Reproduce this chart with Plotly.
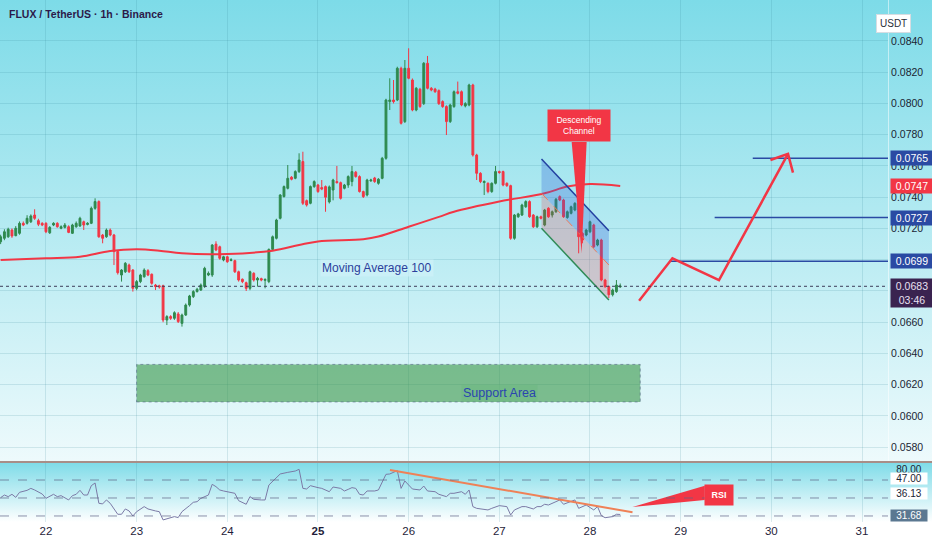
import base64
import pandas as pd
import plotly.graph_objects as go

# FLUX / USDT, 1h candles from 2024-05-21 12:00, prices in units of 0.00001 USDT
open_e5 = [
    7115, 7137, 7147, 7190, 7154, 7169, 7233, 7233, 7243, 7286, 7250, 7233,
    7233, 7172, 7222, 7233, 7201, 7207, 7211, 7169, 7211, 7216, 7243, 7226,
    7233, 7329, 7372, 7158, 7147, 7190, 7158, 7052, 6902, 6923, 6966, 6934,
    6817, 6860, 6891, 6930, 6907, 6838, 6833, 6833, 6614, 6636, 6625, 6653,
    6593, 6646, 6710, 6764, 6796, 6806, 6828, 6902, 6902, 7100, 7083, 6998,
    7019, 6995, 6994, 6923, 6875, 6853, 6817, 6913, 6870, 6879, 6868, 6860,
    7066, 7137, 7265, 7404, 7457, 7528, 7521, 7564, 7628, 7378, 7361, 7468,
    7478, 7462, 7468, 7370, 7446, 7500, 7493, 7457, 7478, 7500, 7560, 7532,
    7436, 7414, 7505, 7523, 7489, 7521, 7649, 8012, 8022, 8022, 8225, 7884,
    8225, 8150, 7958, 8091, 7999, 8257, 8097, 8092, 8082, 8012, 7980, 7884,
    7980, 8075, 8075, 7984, 7990, 8118, 7670, 7553, 7494, 7489, 7436, 7489,
    7564, 7564, 7489, 7474, 7137, 7275, 7286, 7339, 7372, 7286, 7211, 7275,
    7222, 7329, 7286, 7307, 7404, 7382, 7270, 7297, 7318, 7361, 7169, 7158,
    7179, 7222, 7094, 7126, 6870, 6828, 6776, 6796, 6826,
]
high_e5 = [
    7160, 7195, 7205, 7200, 7215, 7245, 7245, 7285, 7290, 7323, 7262, 7240,
    7240, 7215, 7240, 7240, 7220, 7235, 7220, 7230, 7245, 7275, 7250, 7240,
    7340, 7393, 7380, 7165, 7200, 7200, 7165, 7060, 6940, 6985, 6975, 6940,
    6870, 6910, 6945, 6940, 6912, 6845, 6840, 6840, 6645, 6645, 6670, 6665,
    6655, 6720, 6775, 6805, 6820, 6848, 6955, 6925, 7100, 7118, 7090, 7025,
    7025, 7010, 7000, 6930, 6880, 6860, 6930, 6920, 6890, 6885, 6880, 7072,
    7155, 7262, 7420, 7475, 7606, 7535, 7572, 7681, 7691, 7385, 7475, 7508,
    7485, 7510, 7475, 7475, 7518, 7600, 7500, 7485, 7540, 7600, 7568, 7540,
    7442, 7518, 7518, 7530, 7522, 7658, 8030, 8161, 8150, 8235, 8235, 8278,
    8353, 8160, 8105, 8100, 8265, 8304, 8105, 8100, 8090, 8020, 7988, 7998,
    8083, 8140, 8083, 8008, 8126, 8126, 7678, 7560, 7508, 7495, 7495, 7600,
    7570, 7570, 7495, 7480, 7292, 7300, 7358, 7380, 7380, 7292, 7282, 7282,
    7325, 7336, 7315, 7395, 7412, 7390, 7315, 7346, 7368, 7368, 7176, 7198,
    7250, 7230, 7134, 7134, 6878, 6835, 6815, 6870, 6848,
]
low_e5 = [
    7100, 7125, 7140, 7140, 7150, 7160, 7215, 7225, 7235, 7255, 7215, 7215,
    7170, 7165, 7215, 7205, 7195, 7200, 7170, 7165, 7205, 7210, 7190, 7220,
    7228, 7320, 7140, 7105, 7140, 7150, 6966, 6905, 6860, 6915, 6915, 6796,
    6805, 6850, 6885, 6895, 6840, 6806, 6815, 6600, 6582, 6615, 6615, 6595,
    6572, 6640, 6700, 6755, 6790, 6800, 6820, 6895, 6890, 7055, 7000, 6990,
    6980, 6990, 6915, 6860, 6850, 6800, 6805, 6860, 6828, 6862, 6817, 6850,
    7060, 7130, 7258, 7398, 7450, 7508, 7515, 7555, 7350, 7340, 7355, 7460,
    7428, 7445, 7307, 7360, 7380, 7488, 7385, 7450, 7460, 7470, 7525, 7430,
    7395, 7405, 7498, 7492, 7480, 7515, 7640, 7958, 8000, 8015, 7865, 7875,
    8155, 7950, 7950, 7972, 7990, 8090, 8078, 8068, 7990, 7972, 7798, 7875,
    7972, 8058, 7982, 7975, 7982, 7660, 7510, 7490, 7414, 7425, 7428, 7482,
    7550, 7470, 7466, 7128, 7128, 7268, 7280, 7332, 7268, 7203, 7203, 7258,
    7214, 7268, 7270, 7300, 7375, 7268, 7262, 7290, 7310, 7041, 7105, 7150,
    7170, 7075, 7086, 6862, 6820, 6755, 6765, 6788, 6820,
]
close_e5 = [
    7147, 7179, 7195, 7152, 7201, 7233, 7222, 7265, 7280, 7265, 7227, 7222,
    7179, 7207, 7233, 7211, 7211, 7222, 7175, 7222, 7233, 7265, 7222, 7233,
    7329, 7372, 7147, 7137, 7190, 7158, 7052, 6917, 6934, 6977, 6923, 6817,
    6860, 6902, 6934, 6902, 6849, 6828, 6826, 6614, 6636, 6625, 6661, 6604,
    6646, 6710, 6768, 6796, 6811, 6838, 6945, 6913, 7094, 7062, 7009, 7019,
    6987, 7000, 6923, 6870, 6860, 6817, 6923, 6870, 6881, 6870, 6874, 7066,
    7147, 7254, 7414, 7468, 7521, 7515, 7564, 7638, 7361, 7350, 7468, 7500,
    7436, 7452, 7400, 7466, 7510, 7493, 7393, 7478, 7532, 7564, 7532, 7436,
    7404, 7510, 7510, 7500, 7515, 7649, 8022, 8022, 8012, 8225, 7873, 8225,
    8161, 7958, 8097, 7980, 8257, 8097, 8086, 8075, 7999, 7980, 7884, 7990,
    8075, 8065, 7990, 7999, 8118, 7670, 7553, 7500, 7500, 7436, 7489, 7564,
    7558, 7478, 7474, 7137, 7286, 7293, 7350, 7372, 7275, 7211, 7275, 7265,
    7318, 7275, 7307, 7387, 7382, 7275, 7307, 7339, 7361, 7147, 7126, 7190,
    7243, 7083, 7126, 6870, 6828, 6776, 6806, 6838, 6832,
]

# Moving Average 100
ma_time = [
    "2024-05-21 12:00", "2024-05-22 00:00", "2024-05-22 09:00", "2024-05-22 17:00",
    "2024-05-23 00:00", "2024-05-23 06:00", "2024-05-23 12:00", "2024-05-24 00:00",
    "2024-05-24 12:00", "2024-05-24 19:00", "2024-05-25 00:00", "2024-05-25 12:00",
    "2024-05-25 16:00", "2024-05-26 00:00", "2024-05-26 08:00", "2024-05-26 12:00",
    "2024-05-27 00:00", "2024-05-27 12:00", "2024-05-27 18:00", "2024-05-28 00:00",
    "2024-05-28 08:00",
]
ma_value = [
    0.06998, 0.07009, 0.07019, 0.07056, 0.07067, 0.07058, 0.07041, 0.07037,
    0.07058, 0.07094, 0.07117, 0.07131, 0.07148, 0.07211, 0.07274, 0.07307,
    0.07372, 0.07425, 0.07468, 0.07484, 0.07472,
]

# RSI (hours after the first candle, value)
rsi_hour = [
    0, 1, 2, 3, 4, 5, 7, 8, 9, 11, 12, 14, 15, 16, 18, 19, 20, 21, 22, 23,
    24, 25, 26, 27, 28, 29, 31, 32, 33, 34, 35, 36, 38, 39, 41, 42, 43, 44,
    45, 46, 47, 48, 50, 51, 52, 53, 55, 56, 57, 58, 59, 60, 62, 63, 65, 66,
    67, 69, 70, 71, 73, 74, 76, 78, 79, 80, 81, 82, 84, 85, 87, 88, 90, 91,
    92, 93, 94, 95, 96, 97, 99, 100, 102, 103, 105, 106, 107, 109, 111, 112,
    113, 115, 116, 118, 119, 120, 122, 123, 124, 125, 126, 129, 130, 132,
    134, 135, 136, 138, 139, 141, 142, 143, 144, 145, 147, 148, 149, 151,
    152, 153, 155, 157, 158, 159, 160, 162, 163, 164,
]
rsi_value = [
    50.4, 53.3, 51.5, 54.1, 50.7, 56.3, 58.5, 60.7, 58.9, 54.4, 49.6, 54.1,
    51.5, 52.6, 47.8, 52.6, 54.1, 58.5, 53.3, 53.3, 63.7, 66.7, 44.1, 43.4,
    47.8, 44.1, 31.9, 31.9, 37.8, 35.6, 30.0, 34.8, 40.4, 37.8, 35.6, 34.8,
    25.6, 26.7, 27.4, 29.3, 28.2, 34.8, 41.5, 45.2, 45.9, 49.6, 53.3, 65.2,
    62.6, 58.9, 57.8, 57.0, 55.2, 47.0, 43.0, 51.5, 48.5, 47.8, 47.8, 64.4,
    71.9, 76.7, 78.5, 80.0, 81.9, 60.7, 60.0, 63.7, 61.5, 60.7, 57.0, 62.2,
    60.7, 57.8, 59.6, 61.5, 60.7, 54.1, 53.3, 57.8, 57.8, 58.9, 76.3, 76.7,
    80.4, 60.7, 68.9, 60.0, 58.9, 63.3, 57.8, 57.0, 54.1, 51.5, 55.2, 55.2,
    57.0, 54.1, 58.9, 40.4, 38.5, 36.7, 38.5, 41.5, 40.4, 31.1, 36.7, 40.4,
    40.4, 37.8, 40.4, 40.4, 43.0, 42.2, 45.9, 47.8, 43.0, 45.9, 47.8, 38.5,
    42.2, 36.7, 40.4, 30.4, 28.1, 29.3, 31.9, 31.7,
]

# drawings
channel_time = ["2024-05-27 11:10", "2024-05-28 05:00"]
channel_upper = [0.07645, 0.07186]
channel_mid = [0.07425, 0.06966]
channel_lower = [0.07201, 0.06742]

target_price = [0.0765, 0.0727, 0.0699]
target_start = ["2024-05-29 19:05", "2024-05-29 09:00", "2024-05-28 21:07"]

path_time = ["2024-05-28 13:00", "2024-05-28 21:49", "2024-05-29 10:09", "2024-05-30 04:25"]
path_price = [0.06738, 0.07009, 0.06870, 0.07677]
head_time = ["2024-05-29 23:46", "2024-05-30 04:25", "2024-05-30 05:44"]
head_price = [0.07638, 0.07677, 0.07557]

support_time = ["2024-05-23 00:00", "2024-05-28 13:18"]
support_price = [0.0609, 0.0633]

callout_time = ["2024-05-27 19:09", "2024-05-27 21:47", "2024-05-27 23:07"]
callout_price = [0.07753, 0.07041, 0.07753]

rsi_trend_time = ["2024-05-25 19:03", "2024-05-28 11:15"]
rsi_trend_value = [81.1, 34.1]
rsi_callout_time = ["2024-05-29 06:23", "2024-05-28 11:15", "2024-05-29 06:23"]
rsi_callout_value = [63.7, 40.0, 47.8]

price_ticks = [0.058, 0.060, 0.062, 0.064, 0.066, 0.068, 0.070,
               0.072, 0.074, 0.076, 0.078, 0.080, 0.082, 0.084]
# 0.0680 and 0.0700 sit fully under the price tags
price_tick_text = ["0.0580", "0.0600", "0.0620", "0.0640", "0.0660", "", "",
                   "0.0720", "0.0740", "0.0760", "0.0780", "0.0800", "0.0820", "0.0840"]
last_price = 0.0683
ma_last = 0.0747

t = pd.date_range("2024-05-21 12:00", periods=len(close_e5), freq="h")
rsi_t = [t[0] + pd.Timedelta(hours=h) for h in rsi_hour]

RED = "#f23645"
GREEN = "#2f8a4f"
BLUE = "#2a4aa3"
FONT = "Liberation Sans"
XEND = 888 / 932

fig = go.Figure()

fig.add_trace(go.Candlestick(
    x=t,
    open=[v / 1e5 for v in open_e5],
    high=[v / 1e5 for v in high_e5],
    low=[v / 1e5 for v in low_e5],
    close=[v / 1e5 for v in close_e5],
    increasing=dict(line=dict(color=GREEN, width=1), fillcolor=GREEN),
    decreasing=dict(line=dict(color=RED, width=1), fillcolor=RED),
    whiskerwidth=0,
    hoverinfo="skip",
))

fig.add_trace(go.Scatter(x=ma_time, y=ma_value, mode="lines",
                         line=dict(color=RED, width=2, shape="spline")))

# descending channel
fig.add_trace(go.Scatter(
    x=channel_time + channel_time[::-1],
    y=channel_upper + channel_mid[::-1],
    fill="toself", fillcolor="rgba(50,100,215,0.3)", mode="none"))
fig.add_trace(go.Scatter(
    x=channel_time + channel_time[::-1],
    y=channel_mid + channel_lower[::-1],
    fill="toself", fillcolor="rgba(242,54,69,0.22)", mode="none"))
fig.add_trace(go.Scatter(x=channel_time, y=channel_upper, mode="lines",
                         line=dict(color="#2340a0", width=1.5)))
fig.add_trace(go.Scatter(x=channel_time, y=channel_mid, mode="lines",
                         line=dict(color="#f07a5a", width=1, dash="dash")))
fig.add_trace(go.Scatter(x=channel_time, y=channel_lower, mode="lines",
                         line=dict(color="#2e8b57", width=1.5)))

# target levels
for st, p in zip(target_start, target_price):
    fig.add_trace(go.Scatter(x=[st, "2024-06-02 00:00"], y=[p, p], mode="lines",
                             line=dict(color=BLUE, width=1.5)))

# projected path
fig.add_trace(go.Scatter(x=path_time, y=path_price, mode="lines",
                         line=dict(color=RED, width=2.5)))
fig.add_trace(go.Scatter(x=head_time, y=head_price, mode="lines",
                         line=dict(color=RED, width=2.5)))

# callout pointer
fig.add_trace(go.Scatter(x=callout_time, y=callout_price, fill="toself",
                         fillcolor=RED, mode="none"))

# RSI pane
fig.add_trace(go.Scatter(x=rsi_t, y=rsi_value, mode="lines", xaxis="x2", yaxis="y2",
                         line=dict(color="#7b7aa6", width=1)))
fig.add_trace(go.Scatter(x=rsi_trend_time, y=rsi_trend_value, mode="lines",
                         xaxis="x2", yaxis="y2", line=dict(color="#ef8157", width=2)))
fig.add_trace(go.Scatter(x=rsi_callout_time, y=rsi_callout_value, fill="toself",
                         fillcolor=RED, mode="none", xaxis="x2", yaxis="y2"))

# gradient background
svg = (
    '<svg xmlns="http://www.w3.org/2000/svg" width="932" height="522" '
    'viewBox="0 0 932 522" preserveAspectRatio="none"><defs>'
    '<linearGradient id="a" x1="0" y1="0" x2="0" y2="1">'
    '<stop offset="0" stop-color="#7ddbe8"/><stop offset="1" stop-color="#eefafc"/>'
    '</linearGradient>'
    '<linearGradient id="b" x1="0" y1="0" x2="0" y2="1">'
    '<stop offset="0" stop-color="#7ddbe8"/><stop offset="1" stop-color="#ffffff"/>'
    '</linearGradient></defs>'
    '<rect x="0" y="0" width="932" height="462" fill="url(#a)"/>'
    '<rect x="0" y="462" width="932" height="60" fill="url(#b)"/></svg>'
)
bg_src = "data:image/svg+xml;base64," + base64.b64encode(svg.encode()).decode()

shapes = [
    dict(type="rect", xref="x", yref="y", x0=support_time[0], x1=support_time[1],
         y0=support_price[0], y1=support_price[1], fillcolor="rgba(56,150,70,0.6)",
         line=dict(color="rgba(80,100,130,0.6)", width=1, dash="dot")),
    dict(type="line", xref="paper", yref="y", x0=0, x1=XEND, y0=last_price, y1=last_price,
         line=dict(color="#3c3c5a", width=1, dash="dot")),
    dict(type="line", xref="paper", yref="paper", x0=0, x1=1, y0=1 - 462 / 522,
         y1=1 - 462 / 522, line=dict(color="#a88e88", width=2)),
]
for lvl in [70, 50, 30]:
    shapes.append(dict(type="line", xref="paper", yref="y2", x0=0, x1=XEND, y0=lvl, y1=lvl,
                       line=dict(color="rgba(95,100,135,0.7)", width=1, dash="dash")))

annotations = [
    dict(text="FLUX / TetherUS · 1h · Binance", xref="paper", yref="paper", x=0.007,
         y=1 - 14 / 522, xanchor="left", yanchor="middle", showarrow=False,
         font=dict(family=FONT, size=10.5, color="#2c1a4a", weight="bold")),
    dict(text="Moving Average 100", x="2024-05-25 15:30", y=0.06947, xref="x", yref="y",
         showarrow=False, bgcolor="rgba(205,240,248,0.75)",
         font=dict(family=FONT, size=12, color="#2c3f9c")),
    dict(text="Support Area", x="2024-05-27 00:10", y=0.06147, xref="x", yref="y",
         showarrow=False, bgcolor="rgba(110,185,130,0.6)",
         font=dict(family=FONT, size=12.5, color="#2a45b0")),
    dict(text="Descending<br>Channel", x="2024-05-27 21:13", y=0.07862, xref="x", yref="y",
         showarrow=False, bgcolor=RED, borderpad=5, width=52,
         font=dict(family=FONT, size=8.5, color="white")),
    dict(text="RSI", x="2024-05-29 10:05", y=52.8, xref="x2", yref="y2",
         showarrow=False, bgcolor=RED, borderpad=5, width=18,
         font=dict(family=FONT, size=9, color="white", weight="bold")),
    dict(text="USDT", xref="paper", yref="paper", x=911 / 932, y=1 - 14 / 522,
         showarrow=False, bgcolor="white", bordercolor="#d6dde2", borderpad=3,
         font=dict(family=FONT, size=10, color="#2a2e39")),
]
tags = [(0.0765, BLUE), (ma_last, RED), (0.0727, BLUE), (0.0699, BLUE)]
for p, c in tags:
    annotations.append(dict(text=f"{p:.4f}", xref="paper", yref="y", x=XEND + 0.002, y=p,
                            xanchor="left", showarrow=False, bgcolor=c, width=40,
                            font=dict(family=FONT, size=10.5, color="white")))
annotations.append(dict(text=f"{last_price:.4f}<br>03:46", xref="paper", yref="y",
                        x=XEND + 0.002, y=last_price, xanchor="left", yanchor="top",
                        yshift=8, showarrow=False, bgcolor="#3a2350", width=40,
                        font=dict(family=FONT, size=10.5, color="#e8e0f0")))
rsi_tags = [("80.00", 81.5, None, "#1a2433"), ("47.00", 71.5, "white", "#1a2433"),
            ("36.13", 55.0, "white", "#1a2433"), ("31.68", 30.0, "#5b7891", "white")]
for txt, v, bg, fc in rsi_tags:
    annotations.append(dict(text=txt, xref="paper", yref="y2", x=XEND + 0.002, y=v,
                            xanchor="left", showarrow=False, bgcolor=bg, width=36,
                            borderpad=0, font=dict(family=FONT, size=10, color=fc)))

day_ticks = pd.date_range("2024-05-22", "2024-05-31", freq="D")
day_text = [f"<b>{d.day}</b>" if d.day == 25 else str(d.day) for d in day_ticks]
x_range = ["2024-05-21 11:50", "2024-05-31 06:53"]
grid = "rgba(50,130,150,0.16)"

fig.update_layout(
    width=932, height=550,
    margin=dict(l=0, r=0, t=0, b=28),
    paper_bgcolor="white",
    plot_bgcolor="rgba(0,0,0,0)",
    showlegend=False,
    images=[dict(source=bg_src, xref="paper", yref="paper", x=0, y=1, sizex=1, sizey=1,
                 xanchor="left", yanchor="top", sizing="stretch", layer="below")],
    xaxis=dict(domain=[0, XEND], range=x_range, type="date", rangeslider=dict(visible=False),
               showticklabels=False, showgrid=True, gridcolor=grid, tickvals=day_ticks,
               zeroline=False, anchor="y"),
    yaxis=dict(domain=[61 / 522, 1], range=[0.05712, 0.08662], side="right", anchor="x",
               tickvals=price_ticks, ticktext=price_tick_text, showgrid=True, gridcolor=grid,
               zeroline=False, ticks="", tickfont=dict(family=FONT, size=10.5, color="#1a2433"),
               showline=True, linecolor="rgba(255,255,255,0.5)"),
    xaxis2=dict(domain=[0, XEND], matches="x", type="date", anchor="y2", tickvals=day_ticks,
                ticktext=day_text, showgrid=True, gridcolor=grid, zeroline=False, ticks="",
                tickfont=dict(family=FONT, size=11.5, color="#1f1d3a")),
    yaxis2=dict(domain=[0, 59 / 522], range=[23.3, 88.9], side="right", anchor="x2",
                showticklabels=False, showgrid=False, zeroline=False),
    shapes=shapes,
    annotations=annotations,
)

fig.write_html("out.html", config={"displayModeBar": False},
               post_script="document.body.style.margin = '0';")
